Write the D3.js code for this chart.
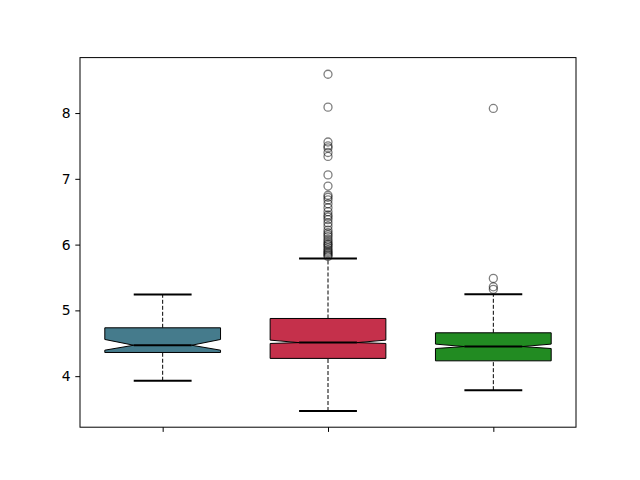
<!DOCTYPE html>
<html>
<head>
<meta charset="utf-8">
<script src="https://cdn.jsdelivr.net/npm/d3@7"></script>
<style>
  body { margin: 0; background: #fff; }
  text { font-family: "DejaVu Sans", sans-serif; }
</style>
</head>
<body>
<div id="chart"></div>
<script>
// box stats
const positions = [1, 2, 3];
const colors = ["#457b8c", "#c5304b", "#228b22"];
const whiskerLow = [3.93, 3.47, 3.787];
const whiskerHigh = [5.243, 5.79, 5.247];
const q1 = [4.36, 4.27, 4.233];
const q3 = [4.735, 4.877, 4.659];
const medians = [4.47, 4.51, 4.45];
const notchLow = [4.395, 4.497, 4.42];
const notchHigh = [4.558, 4.548, 4.487];
const outliers = [
  [],
  [8.59, 8.09, 7.56, 7.5, 7.47, 7.4, 7.34, 7.06, 6.89, 6.75, 6.72, 6.68, 6.62, 6.56,
   6.5, 6.45, 6.42, 6.38, 6.33, 6.28, 6.22, 6.18, 6.15, 6.12, 6.08, 6.05, 6.02, 6.0,
   5.98, 5.95, 5.92, 5.9, 5.88, 5.86, 5.84, 5.82],
  [8.07, 5.486, 5.358, 5.32]
];
const yTicks = [4, 5, 6, 7, 8];

const width = 640, height = 480;
const margin = { top: 57.6, right: 64, bottom: 52.8, left: 80 };

const svg = d3.select("#chart").append("svg")
  .attr("width", width)
  .attr("height", height);

const x = d3.scaleLinear()
  .domain([0.5, 3.5])
  .range([margin.left, width - margin.right]);

const y = d3.scaleLinear()
  .domain([3.224, 8.843])
  .range([height - margin.bottom, margin.top]);

const boxW = 0.35, notchW = 0.175, capW = 0.175;

const groups = svg.append("g").selectAll("g")
  .data(positions)
  .join("g");

// whiskers
groups.append("line")
  .attr("x1", d => x(d)).attr("x2", d => x(d))
  .attr("y1", (d, i) => y(whiskerLow[i])).attr("y2", (d, i) => y(q1[i]))
  .attr("stroke", "#000").attr("stroke-dasharray", "4,2");
groups.append("line")
  .attr("x1", d => x(d)).attr("x2", d => x(d))
  .attr("y1", (d, i) => y(q3[i])).attr("y2", (d, i) => y(whiskerHigh[i]))
  .attr("stroke", "#000").attr("stroke-dasharray", "4,2");

// caps
[whiskerLow, whiskerHigh].forEach(arr => {
  groups.append("line")
    .attr("x1", d => x(d - capW)).attr("x2", d => x(d + capW))
    .attr("y1", (d, i) => y(arr[i])).attr("y2", (d, i) => y(arr[i]))
    .attr("stroke", "#000").attr("stroke-width", 2);
});

// notched boxes
groups.append("path")
  .attr("d", (d, i) => {
    const pts = [
      [d - boxW, q1[i]], [d + boxW, q1[i]], [d + boxW, notchLow[i]],
      [d + notchW, medians[i]], [d + boxW, notchHigh[i]], [d + boxW, q3[i]],
      [d - boxW, q3[i]], [d - boxW, notchHigh[i]], [d - notchW, medians[i]],
      [d - boxW, notchLow[i]]
    ];
    return "M" + pts.map(p => x(p[0]) + "," + y(p[1])).join("L") + "Z";
  })
  .attr("fill", (d, i) => colors[i])
  .attr("stroke", "#000").attr("stroke-width", 1);

// medians
groups.append("line")
  .attr("x1", d => x(d - notchW)).attr("x2", d => x(d + notchW))
  .attr("y1", (d, i) => y(medians[i])).attr("y2", (d, i) => y(medians[i]))
  .attr("stroke", "#000").attr("stroke-width", 2);

// outliers
groups.selectAll("circle")
  .data((d, i) => outliers[i].map(v => ({ p: d, v: v })))
  .join("circle")
  .attr("cx", d => x(d.p))
  .attr("cy", d => y(d.v))
  .attr("r", 4)
  .attr("fill", "none")
  .attr("stroke", "#000")
  .attr("stroke-opacity", 0.5)
  .attr("stroke-width", 1.3);

// axes
svg.append("g")
  .attr("transform", "translate(0," + (height - margin.bottom) + ")")
  .call(d3.axisBottom(x).tickValues(positions).tickFormat("").tickSize(4.7).tickSizeOuter(0))
  .call(g => g.select(".domain").remove());

svg.append("g")
  .attr("transform", "translate(" + margin.left + ",0)")
  .call(d3.axisLeft(y).tickValues(yTicks).tickFormat(d3.format("d")).tickSize(4.7).tickPadding(4.8).tickSizeOuter(0))
  .call(g => g.select(".domain").remove())
  .call(g => g.selectAll("text").attr("font-size", 13.9).attr("fill", "#000"));

// frame
svg.append("rect")
  .attr("x", margin.left).attr("y", margin.top)
  .attr("width", width - margin.left - margin.right)
  .attr("height", height - margin.top - margin.bottom)
  .attr("fill", "none").attr("stroke", "#000").attr("stroke-width", 1);
</script>
</body>
</html>
